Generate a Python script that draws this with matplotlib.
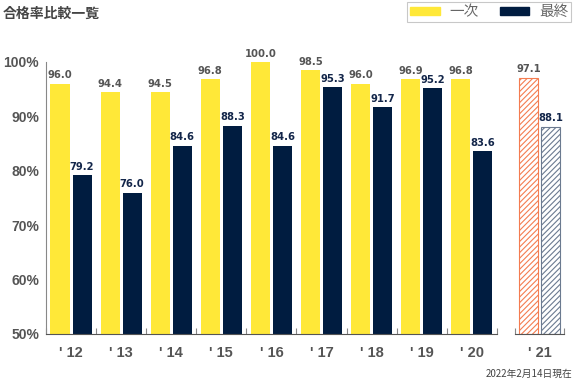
import matplotlib
matplotlib.use("Agg")
import matplotlib.pyplot as plt
from matplotlib.patches import Patch
from matplotlib import font_manager as fm

# data
years = ["' 12", "' 13", "' 14", "' 15", "' 16", "' 17", "' 18", "' 19", "' 20", "' 21"]
first = [96.0, 94.4, 94.5, 96.8, 100.0, 98.5, 96.0, 96.9, 96.8, 97.1]
final = [79.2, 76.0, 84.6, 88.3, 84.6, 95.3, 91.7, 95.2, 83.6, 88.1]
yticks = [50, 60, 70, 80, 90, 100]

yellow = '#FFE838'
navy = '#001C40'
gray = '#555555'
plt.rcParams['hatch.linewidth'] = 0.8

# look for a narrow bold face for the value labels
narrow = None
for f in fm.fontManager.ttflist:
    name = f.fname.lower()
    if ('narrow' in name or 'condensed' in name) and 'bold' in name and 'oblique' not in name and 'italic' not in name:
        narrow = f.fname
        break
if narrow:
    vfont = fm.FontProperties(fname=narrow, size=8)
else:
    vfont = fm.FontProperties(family='DejaVu Sans', weight='bold', size=7)

fig = plt.figure(figsize=(5.82, 3.87), dpi=100)
ax = fig.add_axes([0.079, 0.137, 0.890, 0.703])

# last year sits a bit apart from the others
pos = list(range(9)) + [9.35]
w = 0.38
off = 0.22

for i in range(len(years)):
    if i < 9:
        ax.bar(pos[i] - off, first[i] - 50, w, bottom=50, color=yellow)
        ax.bar(pos[i] + off, final[i] - 50, w, bottom=50, color=navy)
    else:
        ax.bar(pos[i] - off, first[i] - 50, w, bottom=50, facecolor='white',
               edgecolor='#F47C50', hatch='//////', linewidth=0.8)
        ax.bar(pos[i] + off, final[i] - 50, w, bottom=50, facecolor='white',
               edgecolor='#6B7A90', hatch='//////', linewidth=0.8)
    ax.text(pos[i] - off, first[i] + 0.6, '%.1f' % first[i], ha='center', va='bottom',
            fontproperties=vfont, color=gray)
    ax.text(pos[i] + off, final[i] + 0.6, '%.1f' % final[i], ha='center', va='bottom',
            fontproperties=vfont, color='#13264a')

ax.set_ylim(50, 100)
ax.set_xlim(-0.5, 9.84)
ax.set_yticks(yticks)
ax.set_yticklabels(['%d%%' % t for t in yticks], family='Liberation Sans',
                   weight='bold', fontsize=10, color=gray)
ax.tick_params(axis='y', length=0, pad=5)

ax.set_xticks(pos)
ax.set_xticklabels(years, family='Liberation Sans', weight='bold', fontsize=10.5, color=gray)
ax.tick_params(axis='x', length=0, pad=9)
# group separators
ax.set_xticks([k - 0.5 for k in range(10)] + [8.86, 9.84], minor=True)
ax.tick_params(axis='x', which='minor', direction='in', length=4, color='#888888', width=0.8)

for s in ['top', 'right']:
    ax.spines[s].set_visible(False)
ax.spines['left'].set_color('#888888')
ax.spines['left'].set_linewidth(0.8)
ax.spines['bottom'].set_color('#555555')
ax.spines['bottom'].set_linewidth(0.8)
ax.spines['bottom'].set_bounds(-0.5, 8.5)
ax.plot([8.86, 9.84], [50, 50], color='#555555', linewidth=0.8, clip_on=False)

fig.text(0.005, 0.965, '合格率比較一覧', family='Noto Sans CJK JP', weight='bold',
         fontsize=10, color='#444444', va='center')
fig.text(0.983, 0.035, '2022年2月14日現在', family='Noto Sans CJK JP',
         fontsize=7, color='#444444', ha='right', va='center')

handles = [Patch(color=yellow), Patch(color=navy)]
leg = fig.legend(handles, ['一次', '最終'], loc='upper right', bbox_to_anchor=(0.981, 0.995),
                 ncol=2, frameon=True, fancybox=False, handlelength=2.0, handleheight=0.45,
                 columnspacing=1.5, handletextpad=0.65, borderpad=0.2, borderaxespad=0,
                 prop={'family': 'Noto Sans CJK JP', 'size': 10.5})
leg.get_frame().set_edgecolor('#bbbbbb')
leg.get_frame().set_linewidth(0.8)
for t in leg.get_texts():
    t.set_color('#666666')

fig.savefig('out.png', dpi=100)
